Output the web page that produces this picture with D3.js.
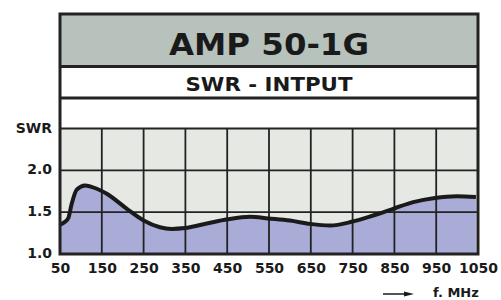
<!DOCTYPE html>
<html>
<head>
<meta charset="utf-8">
<script src="https://cdn.jsdelivr.net/npm/d3@7"></script>
<style>
  body { margin: 0; background: #fff; }
  svg { display: block; font-family: "DejaVu Sans", sans-serif; font-weight: bold; }
</style>
</head>
<body>
<svg id="chart"></svg>
<script>
const title = "AMP 50-1G";
const subtitle = "SWR - INTPUT";

// frequency (MHz) and SWR
const freqs = [50, 62, 70, 78, 90, 110, 138, 162, 210, 250, 289, 317, 349, 401, 451, 505, 548, 600, 648, 696, 748, 799, 847, 895, 947, 999, 1045];
const swr = [1.35, 1.385, 1.43, 1.6, 1.77, 1.82, 1.78, 1.72, 1.54, 1.4, 1.32, 1.3, 1.31, 1.365, 1.415, 1.445, 1.425, 1.4, 1.36, 1.34, 1.385, 1.46, 1.54, 1.62, 1.67, 1.69, 1.68];

const xTicks = [50, 150, 250, 350, 450, 550, 650, 750, 850, 950, 1050];
const yTicks = [1.0, 1.5, 2.0, 2.5];
const yTickLabels = ["1.0", "1.5", "2.0", "SWR"];

const width = 501;
const height = 300;
const frameLeft = 60, frameRight = 478, frameTop = 14, frameBottom = 254;
const titleBottom = 66.5, subBottom = 98;

const svg = d3.select("#chart").attr("width", width).attr("height", height);

const x = d3.scaleLinear().domain([50, 1050]).range([frameLeft, frameRight]);
const y = d3.scaleLinear().domain([1.0, 2.5]).range([frameBottom, 128.5]);

// backgrounds
svg.append("rect")
  .attr("x", frameLeft).attr("y", frameTop)
  .attr("width", frameRight - frameLeft).attr("height", titleBottom - frameTop)
  .attr("fill", "#b8c2bc");
svg.append("rect")
  .attr("x", frameLeft).attr("y", y(2.5))
  .attr("width", frameRight - frameLeft).attr("height", frameBottom - y(2.5))
  .attr("fill", "#e6e8e4");

let data = freqs.map((f, i) => [f, swr[i]]);

const area = d3.area()
  .x(d => x(d[0]))
  .y0(y(1.0))
  .y1(d => y(d[1]))
  .curve(d3.curveMonotoneX);

svg.append("path")
  .datum(data)
  .attr("d", area)
  .attr("fill", "#aaacd8");

// grid
svg.append("g")
  .selectAll("line")
  .data(xTicks)
  .enter()
  .append("line")
  .attr("x1", d => x(d)).attr("x2", d => x(d))
  .attr("y1", y(2.5)).attr("y2", frameBottom)
  .attr("stroke", "#222")
  .attr("stroke-width", 1.8);

svg.append("g")
  .selectAll("line")
  .data(yTicks)
  .enter()
  .append("line")
  .attr("x1", frameLeft).attr("x2", frameRight)
  .attr("y1", d => y(d)).attr("y2", d => y(d))
  .attr("stroke", "#222")
  .attr("stroke-width", 1.8);

// curve
const line = d3.line()
  .x(d => x(d[0]))
  .y(d => y(d[1]))
  .curve(d3.curveMonotoneX);

svg.append("path")
  .datum(data)
  .attr("d", line)
  .attr("fill", "none")
  .attr("stroke", "#1a1a1a")
  .attr("stroke-width", 4)
  .attr("stroke-linejoin", "round");

// frame and band separators
svg.append("rect")
  .attr("x", frameLeft).attr("y", frameTop)
  .attr("width", frameRight - frameLeft).attr("height", frameBottom - frameTop)
  .attr("fill", "none")
  .attr("stroke", "#222")
  .attr("stroke-width", 3);

[titleBottom, subBottom].forEach(v => {
  svg.append("line")
    .attr("x1", frameLeft).attr("x2", frameRight)
    .attr("y1", v).attr("y2", v)
    .attr("stroke", "#222")
    .attr("stroke-width", 3);
});

// titles
svg.append("text")
  .attr("x", (frameLeft + frameRight) / 2)
  .attr("y", 55)
  .attr("text-anchor", "middle")
  .attr("font-size", 30)
  .attr("fill", "#1a1a1a")
  .attr("textLength", 200)
  .attr("lengthAdjust", "spacingAndGlyphs")
  .text(title);

svg.append("text")
  .attr("x", (frameLeft + frameRight) / 2)
  .attr("y", 91)
  .attr("text-anchor", "middle")
  .attr("font-size", 19)
  .attr("fill", "#1a1a1a")
  .attr("textLength", 167)
  .attr("lengthAdjust", "spacingAndGlyphs")
  .text(subtitle);

// axes
let xAxis = d3.axisBottom(x).tickValues(xTicks).tickSize(0).tickPadding(9)
  .tickFormat(d3.format("d"));
let yAxis = d3.axisLeft(y).tickValues(yTicks).tickSize(0).tickPadding(8)
  .tickFormat((d, i) => yTickLabels[i]);

svg.append("g")
  .attr("transform", "translate(0," + frameBottom + ")")
  .call(xAxis)
  .call(g => g.select(".domain").remove())
  .selectAll("text")
  .attr("font-family", "DejaVu Sans")
  .attr("font-weight", "bold")
  .attr("font-size", 14)
  .attr("fill", "#1a1a1a");

svg.append("g")
  .attr("transform", "translate(" + frameLeft + ",0)")
  .call(yAxis)
  .call(g => g.select(".domain").remove())
  .selectAll("text")
  .attr("font-family", "DejaVu Sans")
  .attr("font-weight", "bold")
  .attr("font-size", 14)
  .attr("dy", "0.25em")
  .attr("fill", "#1a1a1a");

// unit label with arrow
svg.append("line")
  .attr("x1", 383).attr("x2", 406)
  .attr("y1", 294).attr("y2", 294)
  .attr("stroke", "#1a1a1a")
  .attr("stroke-width", 1.5);
svg.append("path")
  .attr("d", "M404,291.5 L414,294 L404,296.5 Z")
  .attr("fill", "#1a1a1a");

svg.append("text")
  .attr("x", 433)
  .attr("y", 297)
  .attr("font-size", 13)
  .attr("fill", "#1a1a1a")
  .text("f. MHz");
</script>
</body>
</html>
